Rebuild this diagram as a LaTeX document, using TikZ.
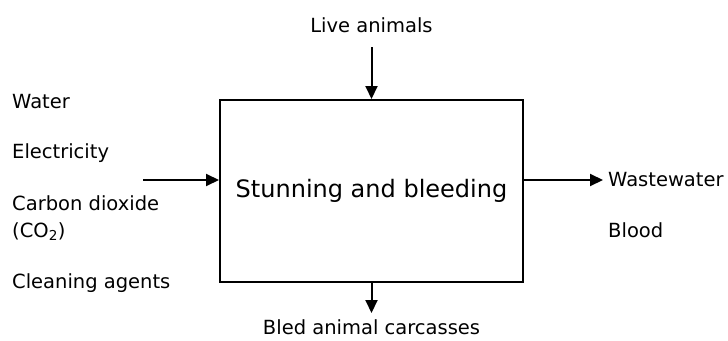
\documentclass[tikz,border=0pt]{standalone}
\usepackage{fontspec}
\setmainfont{DejaVu Sans}
\usetikzlibrary{positioning,arrows.meta}

\begin{document}
\begin{tikzpicture}[x=1pt, y=-1pt,
			box/.style={draw, line width=2pt, rectangle, minimum width=303pt, minimum height=182pt, inner sep=0pt, align=center, font=\fontsize{24}{28}\selectfont},
			txt/.style={inner sep=0pt, align=left, font=\fontsize{19.5}{27}\selectfont},
			arrow/.style={-{Triangle[length=13pt, width=12pt]}, line width=2pt}]
			
			\useasboundingbox (0,0) rectangle (728,340);
			
			\node[box] (stun) at (371.5,191) {Stunning and bleeding};
			
			\node[txt] (live) at (371.5,25) {Live animals};
			\node[txt] (bled) at (371.5,327) {Bled animal carcasses};
			
			\node[txt, anchor=west] (water) at (12,102) {Water};
			\node[txt, anchor=west] (elec) at (12,153) {Electricity};
			\node[txt, anchor=west] (co2) at (12,218) {Carbon dioxide\\(CO\textsubscript{2})};
			\node[txt, anchor=west] (clean) at (12,283) {Cleaning agents};
			
			\node[txt, anchor=west] (waste) at (608,180) {Wastewater};
			\node[txt, anchor=west] (blood) at (608,230) {Blood};
			
			\coordinate (livetail) at (371.5,47);
			\coordinate (intail) at (143,180);
			\coordinate (outtip) at (603,180);
			\coordinate (bledtip) at (371.5,313);
			
			\draw[arrow] (livetail) -- (stun.north);
			\draw[arrow] (intail) -- (stun.west |- intail);
			\draw[arrow] (stun.east |- outtip) -- (outtip);
			\draw[arrow] (stun.south) -- (bledtip);
			
		\end{tikzpicture}
\end{document}
